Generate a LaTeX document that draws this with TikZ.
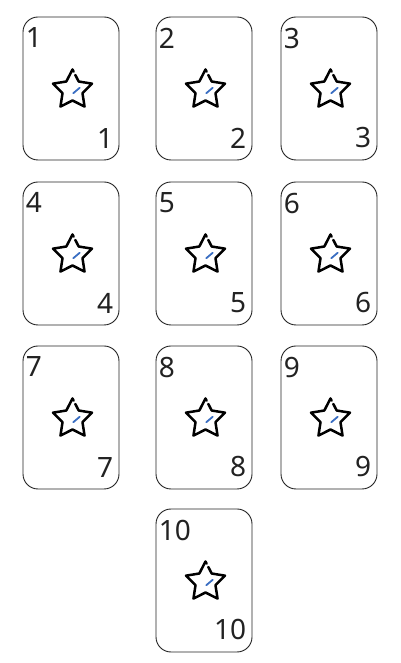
\documentclass[tikz,border=0pt]{standalone}
\usepackage{fontspec}
\setmainfont{Noto Sans}
\usetikzlibrary{calc}
\definecolor{inkgray}{HTML}{222222}
\definecolor{tickblue}{HTML}{3A6EC2}
\begin{document}
\begin{tikzpicture}[
  x=1pt, y=1pt,
  card/.style={draw=inkgray, line width=0.9pt, rounded corners=15pt, minimum width=96pt, minimum height=143pt, inner sep=0pt},
  corner/.style={inner sep=0pt, text=inkgray, font=\fontsize{28}{28}\selectfont},
  starline/.style={draw=black, line width=2.5pt, line join=round, line cap=round},
  tick/.style={draw=tickblue, line width=1.8pt, line cap=round},
  cardstar/.pic={
    \draw[starline] ($(90:20.5)!0.45!(54:10.5)$) -- (54:10.5) -- (18:20.5) -- (-18:10.5) -- (-54:20.5) -- (-90:10.5)
      -- (-126:20.5) -- (-162:10.5) -- (162:20.5) -- (126:10.5) -- (90:20.5) -- ($(90:20.5)!0.18!(54:10.5)$);
    \draw[tick] (0.7,-3.3) -- (7.3,2.3);
  }
]
\useasboundingbox (0,0) rectangle (400,663);
\foreach \n/\x/\y in {1/71/574.5, 2/204/574.5, 3/329/574.5,
                      4/71/409.5, 5/204/409.5, 6/329/409.5,
                      7/71/245.5, 8/204/245.5, 9/329/245.5,
                      10/204/82.5} {
  \node[card] (card\n) at (\x,\y) {};
  \node[corner, anchor=north west] (top\n) at ([xshift=3pt,yshift=-11pt]card\n.north west) {\n};
  \node[corner, anchor=south east] (bot\n) at ([xshift=-6pt,yshift=12pt]card\n.south east) {\n};
  \pic (star\n) at ([shift={(1.5,-1.5)}]card\n.center) {cardstar};
}
\end{tikzpicture}
\end{document}
